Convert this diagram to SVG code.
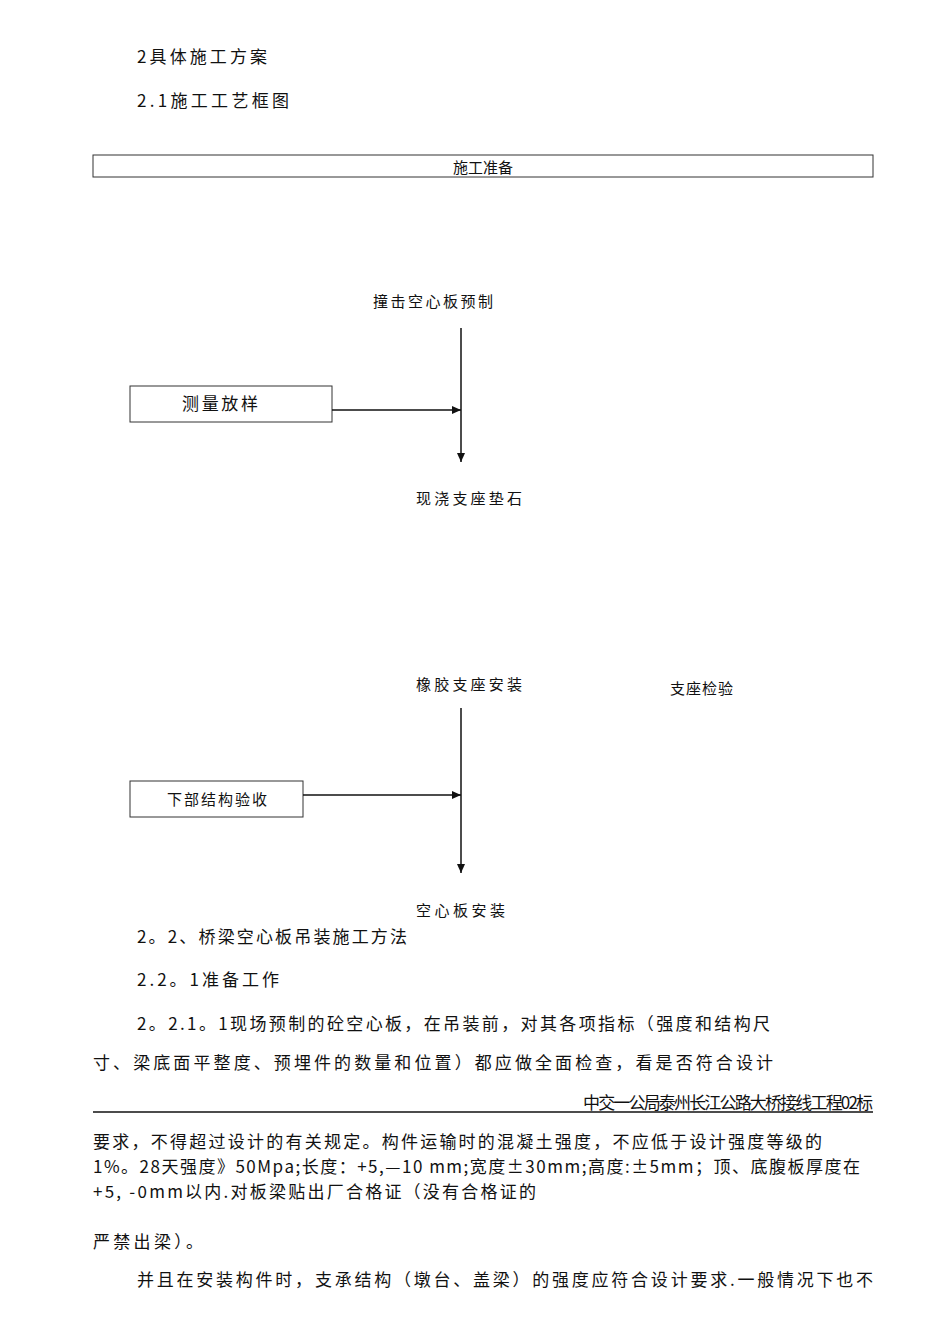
<svg xmlns="http://www.w3.org/2000/svg" width="950" height="1344" viewBox="0 0 950 1344">
<style>
text{font-family:"Noto Sans CJK SC","Liberation Serif",serif;fill:#111;font-size:17px}
.s{font-size:15px}
.box{fill:#fff;stroke:#333;stroke-width:1}
.ln{stroke:#111;stroke-width:1.5;fill:none}
</style>
<defs><marker id="a" markerWidth="10" markerHeight="10" refX="9" refY="5" orient="auto" markerUnits="userSpaceOnUse"><path d="M0,1 L9,5 L0,9 Z" fill="#111"/></marker></defs>
<rect width="950" height="1344" fill="#fff"/>
<text x="137" y="63" textLength="130">2具体施工方案</text>
<text x="137" y="107" textLength="152">2.1施工工艺框图</text>
<g id="n1"><rect class="box" x="93" y="155" width="780" height="22"/><text class="s" x="483" y="173" text-anchor="middle">施工准备</text></g>
<g id="n2"><text class="s" x="373" y="307" textLength="120">撞击空心板预制</text></g>
<g id="n3"><rect class="box" x="130" y="386" width="202" height="36"/><text x="182" y="410" textLength="76">测量放样</text></g>
<g id="n4"><text class="s" x="416" y="504" textLength="106">现浇支座垫石</text></g>
<g id="n5"><text class="s" x="416" y="690" textLength="106">橡胶支座安装</text></g>
<g id="n6"><text class="s" x="670" y="694" textLength="63" font-size="14">支座检验</text></g>
<g id="n7"><rect class="box" x="130" y="781" width="173" height="36"/><text class="s" x="167" y="805" textLength="100">下部结构验收</text></g>
<g id="n8"><text class="s" x="416" y="916" textLength="89">空心板安装</text></g>
<g id="connectors">
<line class="ln" x1="461" y1="328" x2="461" y2="462" marker-end="url(#a)"/>
<line class="ln" x1="332" y1="410" x2="461" y2="410" marker-end="url(#a)"/>
<line class="ln" x1="461" y1="708" x2="461" y2="873" marker-end="url(#a)"/>
<line class="ln" x1="303" y1="795" x2="461" y2="795" marker-end="url(#a)"/>
</g>
<text x="137" y="943" textLength="270">2。2、桥梁空心板吊装施工方法</text>
<text x="137" y="986" textLength="142">2.2。1准备工作</text>
<text x="137" y="1030" textLength="633">2。2.1。1现场预制的砼空心板，在吊装前，对其各项指标（强度和结构尺</text>
<text x="93" y="1069" textLength="680">寸、梁底面平整度、预埋件的数量和位置）都应做全面检查，看是否符合设计</text>
<text x="873" y="1109" font-size="14" text-anchor="end" textLength="290">中交一公局泰州长江公路大桥接线工程02标</text>
<line x1="93" y1="1112" x2="873" y2="1112" stroke="#111" stroke-width="1.5"/>
<text x="93" y="1148" textLength="729">要求，不得超过设计的有关规定。构件运输时的混凝土强度，不应低于设计强度等级的</text>
<text x="93" y="1173" textLength="767">1%。28天强度》50Mpa;长度：+5,—10 mm;宽度±30mm;高度:±5mm；顶、底腹板厚度在</text>
<text x="93" y="1198" textLength="443">+5, -0mm以内.对板梁贴出厂合格证（没有合格证的</text>
<text x="93" y="1248" textLength="110">严禁出梁）。</text>
<text x="137" y="1286" textLength="736">并且在安装构件时，支承结构（墩台、盖梁）的强度应符合设计要求.一般情况下也不</text>
</svg>
